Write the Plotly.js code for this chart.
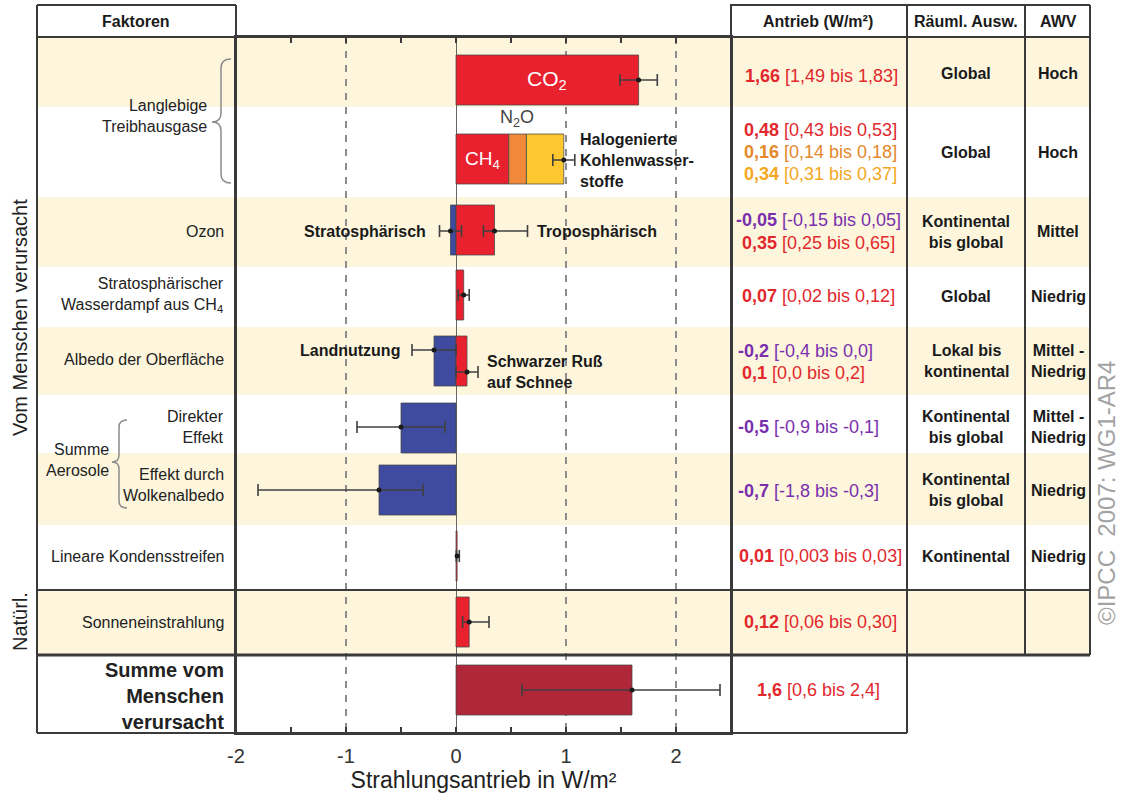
<!DOCTYPE html>
<html><head><meta charset="utf-8">
<script src="https://cdn.plot.ly/plotly-3.0.1.min.js"></script>
<style>html,body{margin:0;padding:0;background:#fff}#chart{width:1121px;height:796px}</style>
</head><body><div id="chart"></div>
<script>
// ---------------- DATA ----------------
const factors = ['CO₂','CH₄','N₂O','Halogenierte Kohlenwasserstoffe','Ozon stratosphärisch','Ozon troposphärisch',
  'Stratosphärischer Wasserdampf aus CH₄','Albedo Landnutzung','Schwarzer Ruß auf Schnee','Aerosole direkter Effekt',
  'Aerosole Wolkenalbedo','Lineare Kondensstreifen','Sonneneinstrahlung','Summe vom Menschen verursacht'];
const forcing   = [1.66, 0.48, 0.16, 0.34, -0.05, 0.35, 0.07, -0.2, 0.1, -0.5, -0.7, 0.01, 0.12, 1.6];
const rangeLow  = [1.49, 0.43, 0.14, 0.31, -0.15, 0.25, 0.02, -0.4, 0.0, -0.9, -1.8, 0.003, 0.06, 0.6];
const rangeHigh = [1.83, 0.53, 0.18, 0.37, 0.05, 0.65, 0.12, 0.0, 0.2, -0.1, -0.3, 0.03, 0.30, 2.4];
const decimals  = [2, 2, 2, 2, 2, 2, 2, 1, 1, 1, 1, 2, 2, 1];
// stacked: CH4, N2O, Halo are drawn end to end in one bar
const stackedGroup = [0, 1, 1, 1, 0, 0, 0, 0, 0, 0, 0, 0, 0, 0];
// error bars: groups of factors (combined range for the stacked bar)
const errorGroups = [[0], [1, 2, 3], [4], [5], [6], [7], [8], [9], [10], [11], [12], [13]];

const rowLabels = ['Langlebige<br>Treibhausgase', '', 'Ozon', 'Stratosphärischer<br>Wasserdampf aus CH<sub>4</sub>',
  'Albedo der Oberfläche', 'Direkter<br>Effekt', 'Effekt durch<br>Wolkenalbedo', 'Lineare Kondensstreifen',
  'Sonneneinstrahlung', '<b>Summe vom<br>Menschen<br>verursacht</b>'];
const rowSpatial = ['Global', 'Global', 'Kontinental<br>bis global', 'Global', 'Lokal bis<br>kontinental',
  'Kontinental<br>bis global', 'Kontinental<br>bis global', 'Kontinental', '', ''];
const rowAWV = ['Hoch', 'Hoch', 'Mittel', 'Niedrig', 'Mittel -<br>Niedrig', 'Mittel -<br>Niedrig', 'Niedrig', 'Niedrig', '', ''];
const headers = ['Faktoren', 'Antrieb (W/m²)', 'Räuml. Ausw.', 'AWV'];
const tickVals = [-2, -1, 0, 1, 2];
const tickText = ['-2', '-1', '0', '1', '2'];

// ---------------- STYLE / LAYOUT GEOMETRY ----------------
const RED = '#e9212f', ORANGE = '#f08a3a', YELLOW = '#fdc82f', BLUE = '#3e4b9e', DARKRED = '#b0273a';
const T_RED = '#e2282d', T_ORANGE = '#e5882c', T_AMBER = '#f4a722', T_PURPLE = '#7a2fae';
const CREAM = '#fdf6dc', LINE = '#3a3a3a';
const barColor  = [RED, RED, ORANGE, YELLOW, BLUE, RED, RED, BLUE, RED, BLUE, BLUE, RED, RED, DARKRED];
const textColor = [T_RED, T_RED, T_ORANGE, T_AMBER, T_PURPLE, T_RED, T_RED, T_PURPLE, T_RED, T_PURPLE, T_PURPLE, T_RED, T_RED, T_RED];
const FONT = 'Liberation Sans, Arial, Helvetica, sans-serif';

const PL = 236, PR = 731, PT = 37, PB = 733;
const rowEdges = [37, 107, 197, 267, 327, 395, 453, 525, 590, 655, 733];
const factorRow = [0, 1, 1, 1, 2, 2, 3, 4, 4, 5, 6, 7, 8, 9];
const rowBarY = [80, 159, 230, 295, 361, 428, 490, 556, 622, 690];
const errY = [80, 160, 231, 231, 295, 350, 372, 427, 490, 556, 622, 690];
const tableTextX = [821, 820, 820, 820, 818, 818, 818, 805, 803, 808, 808, 820, 820, 818];
const tableTextY = [76, 130, 152, 174, 220, 243, 296, 351, 373, 427, 491, 556, 622, 690];
const rowTextY = [74, 152, 232, 296, 361, 427, 490, 556, 622, 690];
const labelY = [116, 0, 231, 295, 359, 427, 485, 556, 622, 696];

const px = x => (x - PL) / (PR - PL);
const py = y => (PB - y) / (PB - PT);

// ---------------- TRACES ----------------
const bases = forcing.map((v, i) => {
  if (!stackedGroup[i]) return 0;
  let b = 0;
  for (let j = 0; j < i; j++) if (stackedGroup[j] === stackedGroup[i]) b += forcing[j];
  return b;
});
const barTrace = {
  type: 'bar', orientation: 'h',
  x: forcing, base: bases, y: factorRow.map(r => rowBarY[r]),
  width: forcing.map(() => 50),
  marker: {color: barColor, line: {color: 'rgba(70,70,70,0.75)', width: 1}},
  hoverinfo: 'skip', showlegend: false
};
const errC = errorGroups.map(g => g.reduce((s, i) => s + forcing[i], 0));
const errLo = errorGroups.map(g => g.reduce((s, i) => s + rangeLow[i], 0));
const errHi = errorGroups.map(g => g.reduce((s, i) => s + rangeHigh[i], 0));
const errTrace = {
  type: 'scatter', mode: 'markers', x: errC, y: errY,
  marker: {color: '#1a1a1a', size: 5},
  error_x: {type: 'data', symmetric: false, array: errHi.map((h, i) => h - errC[i]),
            arrayminus: errLo.map((l, i) => errC[i] - l), color: '#404040', thickness: 1.6, width: 6},
  hoverinfo: 'skip', showlegend: false
};

// ---------------- SHAPES ----------------
const shapes = [];
[0, 2, 4, 6, 8].forEach(r => shapes.push({type: 'rect', xref: 'paper', yref: 'paper', layer: 'below',
  x0: px(37), x1: px(1090), y0: py(rowEdges[r]), y1: py(rowEdges[r + 1]), fillcolor: CREAM, line: {width: 0}}));
const L = (x0, y0, x1, y1, w) => shapes.push({type: 'line', xref: 'paper', yref: 'paper', layer: 'above',
  x0: px(x0), x1: px(x1), y0: py(y0), y1: py(y1), line: {color: LINE, width: w || 2}});
L(37, 5, 37, 733); L(37, 5, 236, 5); L(236, 5, 236, 733);
L(37, 37, 1090, 37);
L(730, 5, 1090, 5); L(731, 5, 731, 733); L(907, 5, 907, 733); L(1025, 5, 1025, 655); L(1090, 5, 1090, 655);
L(37, 590, 1090, 590, 2); L(37, 655, 1090, 655, 3); L(37, 733, 907, 733, 2);

function brace(xEnd, xLine, xCusp, yTop, yMid, yBot, r) {
  const P = (x, y) => px(x).toFixed(5) + ',' + py(y).toFixed(5);
  return 'M' + P(xEnd, yTop) + ' Q' + P(xLine, yTop) + ' ' + P(xLine, yTop + r) + ' L' + P(xLine, yMid - r) +
    ' Q' + P(xLine, yMid) + ' ' + P(xCusp, yMid) + ' Q' + P(xLine, yMid) + ' ' + P(xLine, yMid + r) +
    ' L' + P(xLine, yBot - r) + ' Q' + P(xLine, yBot) + ' ' + P(xEnd, yBot);
}
shapes.push({type: 'path', xref: 'paper', yref: 'paper', path: brace(231, 221, 212, 59, 122, 183, 9), line: {color: '#8a8a8a', width: 1.5}});
shapes.push({type: 'path', xref: 'paper', yref: 'paper', path: brace(127, 119, 112, 420, 462, 508, 7), line: {color: '#8a8a8a', width: 1.5}});

// ---------------- ANNOTATIONS ----------------
const ann = [];
const A = (text, x, y, o) => ann.push(Object.assign({text, x: px(x), y: py(y), xref: 'paper', yref: 'paper',
  showarrow: false, xanchor: 'center', yanchor: 'middle', font: {family: FONT, size: 16, color: '#1a1a1a'}}, o || {}));
const F = (size, color) => ({family: FONT, size, color: color || '#1a1a1a'});

// headers
A('<b>' + headers[0] + '</b>', 136, 21); A('<b>' + headers[1] + '</b>', 818, 21);
A('<b>' + headers[2] + '</b>', 966, 21); A('<b>' + headers[3] + '</b>', 1058, 21);

// left labels
rowLabels.forEach((t, r) => {
  if (!t) return;
  const right = r === 0 ? 209 : 226;
  A(t, right, labelY[r], {xanchor: 'right', align: 'right', font: F(r === 9 ? 20 : 16, '#222')});
});
A('Summe<br>Aerosole', 111, 460, {xanchor: 'right', align: 'right', font: F(16, '#222')});
A('Vom Menschen verursacht', 20, 318, {textangle: -90, font: F(20, '#222')});
A('Natürl.', 20, 622, {textangle: -90, font: F(20, '#222')});
A('©IPCC\u00a0 2007: WG1-AR4', 1106, 493, {textangle: -90, font: F(24, '#a3a3a3')});

// forcing table text
const fmt = (v, d) => { let s = v.toFixed(d); if (parseFloat(s) !== v) s = String(v); return s.replace('.', ','); };
forcing.forEach((v, i) => {
  const d = decimals[i];
  A('<b>' + fmt(v, d) + '</b> [' + fmt(rangeLow[i], d) + ' bis ' + fmt(rangeHigh[i], d) + ']',
    tableTextX[i], tableTextY[i], {font: F(18, textColor[i])});
});
rowSpatial.forEach((t, r) => { if (t) A('<b>' + t + '</b>', 966, rowTextY[r], {font: F(16)}); });
rowAWV.forEach((t, r) => { if (t) A('<b>' + t + '</b>', 1058, rowTextY[r], {font: F(16)}); });

// labels inside the plot
A('CO<sub>2</sub>', 547, 80, {font: F(21, '#ffffff')});
A('CH<sub>4</sub>', 482, 160, {font: F(19, '#ffffff')});
A('N<sub>2</sub>O', 517, 118, {font: F(18, '#444')});
A('<b>Halogenierte<br>Kohlenwasser-<br>stoffe</b>', 578, 160, {xanchor: 'left', align: 'left'});
A('<b>Stratosphärisch</b>', 428, 231, {xanchor: 'right'});
A('<b>Troposphärisch</b>', 535, 231, {xanchor: 'left'});
A('<b>Landnutzung</b>', 402, 350, {xanchor: 'right'});
A('<b>Schwarzer Ruß<br>auf Schnee</b>', 485, 372, {xanchor: 'left', align: 'left'});

// ---------------- LAYOUT ----------------
const layout = {
  width: 1121, height: 796,
  margin: {l: PL, r: 1121 - PR, t: PT, b: 796 - PB, pad: 0},
  paper_bgcolor: '#ffffff', plot_bgcolor: 'rgba(0,0,0,0)',
  font: {family: FONT, color: '#222'},
  showlegend: false, barmode: 'overlay',
  xaxis: {
    range: [-2, 2.5], tickvals: tickVals, ticktext: tickText, tickfont: {size: 20, color: '#333'},
    ticks: 'inside', ticklen: 6, tickwidth: 2, tickcolor: LINE, ticklabelstandoff: 4,
    minor: {dtick: 0.5, tick0: 0, ticks: 'inside', ticklen: 6, tickwidth: 2, tickcolor: LINE, showgrid: false},
    showline: true, linecolor: LINE, linewidth: 2, mirror: 'ticks',
    showgrid: true, gridcolor: '#8c8c8c', gridwidth: 1.3, griddash: '7px,7px',
    zeroline: true, zerolinecolor: '#666', zerolinewidth: 1,
    title: {text: 'Strahlungsantrieb in W/m²', font: {size: 23, color: '#222'}, standoff: 2},
    fixedrange: true
  },
  yaxis: {
    range: [PB, PT], showticklabels: false, ticks: '', showgrid: false, zeroline: false,
    showline: true, linecolor: LINE, linewidth: 2, mirror: true, fixedrange: true
  },
  shapes: shapes, annotations: ann
};
Plotly.newPlot('chart', [barTrace, errTrace], layout, {displayModeBar: false, staticPlot: true});
</script></body></html>
